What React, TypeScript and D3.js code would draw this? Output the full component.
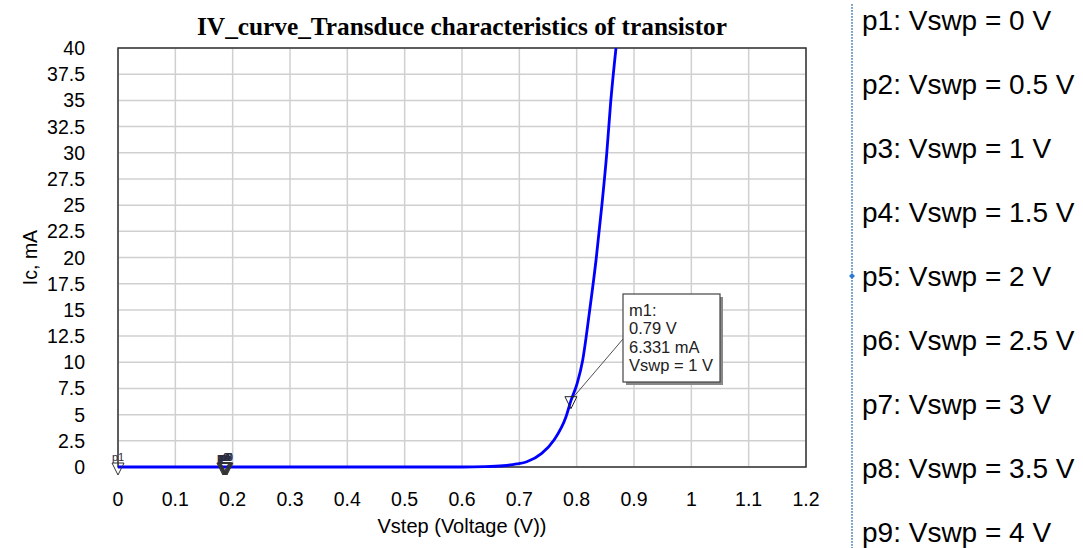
import * as d3 from 'd3';

// Curve (all Vswp curves overlap)
const vstep = [0, 0.1, 0.2, 0.3, 0.4, 0.5, 0.6, 0.64, 0.672, 0.6954, 0.713, 0.739, 0.7605, 0.7814, 0.79, 0.801, 0.8105, 0.822, 0.8338, 0.8437, 0.8524, 0.8593, 0.8686];
const icMa = [0, 0, 0, 0, 0, 0, 0, 0.03, 0.12, 0.29, 0.5, 1.3, 2.58, 4.8, 6.331, 8.0, 10.2, 14.67, 19.76, 24.85, 29.9, 34.8, 40];

const xTicks = [0, 0.1, 0.2, 0.3, 0.4, 0.5, 0.6, 0.7, 0.8, 0.9, 1, 1.1, 1.2];
const yTicks = [0, 2.5, 5, 7.5, 10, 12.5, 15, 17.5, 20, 22.5, 25, 27.5, 30, 32.5, 35, 37.5, 40];

const pLabels = ['p1', 'p2', 'p3', 'p4', 'p5', 'p6', 'p7', 'p8', 'p9'];
const pVolts = [0, 0.183, 0.184, 0.185, 0.186, 0.187, 0.188, 0.189, 0.19];
const vswpValues = ['0', '0.5', '1', '1.5', '2', '2.5', '3', '3.5', '4'];

const markerLabel = ['m1:', '0.79 V', '6.331 mA', 'Vswp = 1 V'];
const markerV = 0.79;
const markerI = 6.331;

const W = 1083;
const H = 548;
const margin = { left: 118, right: 277, top: 48, bottom: 81 };

export default function App() {
  const x = d3.scaleLinear().domain([0, 1.2]).range([margin.left, W - margin.right]);
  const y = d3.scaleLinear().domain([0, 40]).range([H - margin.bottom, margin.top]);
  const pts = vstep.map((v, i) => [v, icMa[i]] as [number, number]);
  const line = d3
    .line<[number, number]>()
    .x((d) => x(d[0]))
    .y((d) => y(d[1]))
    .curve(d3.curveMonotoneX);

  // hollow downward triangle used for the p / m markers
  const tri = (cx: number, cy: number) =>
    `M${cx - 6},${cy - 4} L${cx + 6},${cy - 4} L${cx},${cy + 8} Z`;

  const mx = x(markerV);
  const my = y(markerI);
  const boxX = 623;
  const boxY = 294;
  const boxW = 97;
  const boxH = 88;

  const legendYs = d3.range(9).map((i) => 30 + i * 64);

  return (
    <svg
      width={W}
      height={H}
      style={{ position: 'absolute', left: 0, top: 0, background: '#fff' }}
      fontFamily="Arial, 'Liberation Sans', sans-serif"
    >
      <rect width={W} height={H} fill="#fff" />
      {/* grid */}
      {xTicks.map((t) => (
        <line key={'gx' + t} x1={x(t)} x2={x(t)} y1={y(40)} y2={y(0)} stroke="#d0d0d0" strokeWidth={1.5} />
      ))}
      {yTicks.map((t) => (
        <line key={'gy' + t} x1={x(0)} x2={x(1.2)} y1={y(t)} y2={y(t)} stroke="#d0d0d0" strokeWidth={1.5} />
      ))}
      {/* frame */}
      <rect
        x={x(0)}
        y={y(40)}
        width={x(1.2) - x(0)}
        height={y(0) - y(40)}
        fill="none"
        stroke="#333"
        strokeWidth={1.5}
      />
      {/* tick labels */}
      {yTicks.map((t) => (
        <text key={'ty' + t} x={85} y={y(t)} dy="0.36em" textAnchor="end" fontSize={19.5} fill="#000">
          {t}
        </text>
      ))}
      {xTicks.map((t) => (
        <text key={'tx' + t} x={x(t)} y={499} dy="0.36em" textAnchor="middle" fontSize={19.5} fill="#000">
          {t}
        </text>
      ))}
      <text x={x(0.6)} y={533} textAnchor="middle" fontSize={20} fill="#000">
        Vstep (Voltage (V))
      </text>
      <text
        transform={`translate(30,${(y(0) + y(40)) / 2}) rotate(-90)`}
        dy="0.36em"
        textAnchor="middle"
        fontSize={19.5}
        fill="#000"
      >
        Ic, mA
      </text>
      <text
        x={x(0.6)}
        y={35}
        textAnchor="middle"
        fontSize={25.3}
        fontWeight="bold"
        fontFamily="'Times New Roman', 'Liberation Serif', serif"
        fill="#000"
      >
        IV_curve_Transduce characteristics of transistor
      </text>
      {/* curve */}
      <defs>
        <clipPath id="plotclip">
          <rect x={x(0)} y={y(40)} width={x(1.2) - x(0)} height={y(0) - y(40) + 2} />
        </clipPath>
      </defs>
      <path d={line(pts) || ''} fill="none" stroke="#0000ff" strokeWidth={2.8} clipPath="url(#plotclip)" />
      {/* p markers */}
      {pLabels.map((p, i) => (
        <g key={p}>
          <path d={tri(x(pVolts[i]), y(0))} fill="none" stroke="#333" strokeWidth={1} />
          <text x={x(pVolts[i]) - 6} y={y(0) - 6} fontSize={11} fill="#2a2a40">
            {p}
          </text>
        </g>
      ))}
      {/* m1 marker */}
      <path d={tri(mx, my)} fill="none" stroke="#222" strokeWidth={1} />
      <line x1={mx + 2} y1={my - 3} x2={boxX} y2={boxY + 45} stroke="#222" strokeWidth={0.8} />
      <rect x={boxX + 3} y={boxY + 3} width={boxW} height={boxH} fill="#888" />
      <rect x={boxX} y={boxY} width={boxW} height={boxH} fill="#fff" stroke="#444" strokeWidth={1.2} />
      {markerLabel.map((s, i) => (
        <text key={s} x={boxX + 6} y={boxY + 21.5 + i * 18.5} fontSize={16.5} fill="#222">
          {s}
        </text>
      ))}
      {/* legend panel */}
      <line x1={852} x2={852} y1={4} y2={H} stroke="#5b9bd5" strokeWidth={1.5} strokeDasharray="2,1" />
      <line x1={852} x2={852} y1={4} y2={H} stroke="#777" strokeWidth={0.6} strokeDasharray="1,2" />
      <path d="M849,276 L852,273 L855,276 L852,279 Z" fill="#2a7ad5" />
      {pLabels.map((p, i) => (
        <text key={'lg' + p} x={862} y={legendYs[i]} fontSize={28} fill="#000">
          {`${p}: Vswp = ${vswpValues[i]} V`}
        </text>
      ))}
    </svg>
  );
}
